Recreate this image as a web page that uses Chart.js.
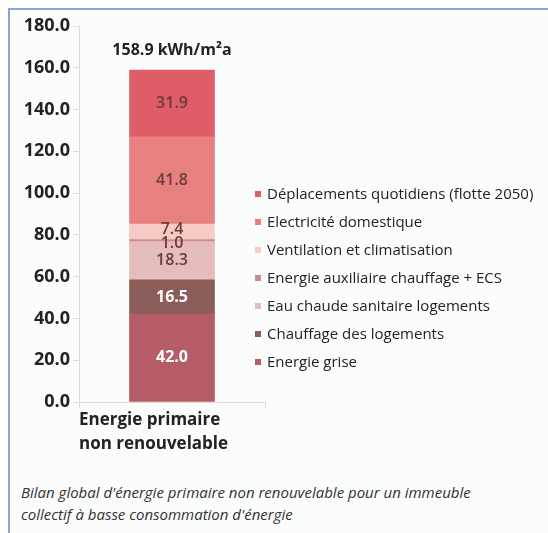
<!DOCTYPE html>
<html>
<head>
<meta charset="utf-8">
<script src="https://cdn.jsdelivr.net/npm/chart.js@4"></script>
<style>
  body { margin: 0; background: #fff; }
  #frame {
    position: absolute; left: 8px; top: 8px; width: 540px; height: 525px;
    border-left: 2px solid #86a4d6; border-top: 2px solid #86a4d6;
    background: #fbfcfc;
  }
  #myChart { position: absolute; left: 0; top: 0; }
  #legend {
    position: absolute; left: 255px; top: 179px;
    font: 15px "Open Sans", sans-serif; color: #222;
  }
  #legend div { height: 28px; line-height: 28px; white-space: nowrap; }
  #legend span {
    display: inline-block; width: 6px; height: 6px; margin-right: 6px;
    vertical-align: middle; position: relative; top: -1px;
  }
  #caption {
    position: absolute; left: 21px; top: 481px;
    font: italic 15px "Open Sans", sans-serif; line-height: 22px; color: #333;
  }
</style>
</head>
<body>
<div id="frame"></div>
<canvas id="myChart" width="548" height="470"></canvas>
<div id="legend"></div>
<div id="caption">Bilan global d'énergie primaire non renouvelable pour un immeuble<br>collectif à basse consommation d'énergie</div>
<script>
// one stacked bar, segments from bottom to top
const category = [['Energie primaire', 'non renouvelable']];
const seriesNames = [
    'Energie grise',
    'Chauffage des logements',
    'Eau chaude sanitaire logements',
    'Energie auxiliaire chauffage + ECS',
    'Ventilation et climatisation',
    'Electricité domestique',
    'Déplacements quotidiens (flotte 2050)'
];
const seriesValues = [42.0, 16.5, 18.3, 1.0, 7.4, 41.8, 31.9];
const seriesColors = ['#b55c66', '#8b5d58', '#e6bdbd', '#cf8b90', '#f6cbc4', '#e68180', '#de5d68'];
const labelColors = ['#fff', '#fff', '#6a3b3b', '#6a3b3b', '#6a3b3b', '#6a3b3b', '#6a3b3b'];
const yTicks = { min: 0, max: 180, step: 20 };
const unit = 'kWh/m²a';

const axisColor = '#ead6d6';

// value labels inside segments + total on top
const barLabels = {
    id: 'barLabels',
    afterDatasetsDraw(chart, args, opts) {
        const c = chart.ctx;
        c.save();
        c.textAlign = 'center';
        c.textBaseline = 'middle';
        let top = null, cx = 0;
        chart.data.datasets.forEach((ds, i) => {
            const bar = chart.getDatasetMeta(i).data[0];
            c.font = (i < 2 ? 'bold ' : '600 ') + '16px "Open Sans"';
            c.fillStyle = labelColors[i];
            c.fillText(ds.data[0].toFixed(1), bar.x, (bar.y + bar.base) / 2 + opts.nudge[i]);
            if (top === null || bar.y < top) top = bar.y;
            cx = bar.x;
        });
        const total = seriesValues.reduce((a, b) => a + b, 0);
        c.font = 'bold 16px "Open Sans"';
        c.fillStyle = '#222';
        c.fillText(total.toFixed(1) + ' ' + unit, cx, top - 20);
        c.restore();
    }
};

const ctx = document.getElementById('myChart').getContext('2d');
let myChart = new Chart(ctx, {
    type: 'bar',
    data: {
        labels: category,
        datasets: seriesNames.map((name, i) => ({
            label: name,
            data: [seriesValues[i]],
            backgroundColor: seriesColors[i],
            borderWidth: 0,
            barThickness: 85
        }))
    },
    options: {
        responsive: false,
        animation: false,
        layout: { padding: { top: 26, right: 283, left: 0, bottom: 0 } },
        plugins: {
            legend: { display: false },
            tooltip: { enabled: false },
            barLabels: { nudge: [0, 0, 0, 3, -2, 0, 0] }
        },
        scales: {
            x: {
                stacked: true,
                grid: { drawOnChartArea: false, color: axisColor, tickLength: 6 },
                border: { color: axisColor },
                ticks: {
                    color: '#222',
                    font: { family: 'Open Sans', size: 17, weight: 'bold', lineHeight: 1.41 },
                    align: 'start',
                    labelOffset: -93,
                    padding: 0,
                    maxRotation: 0
                },
                afterFit(s) { s.height = 68; }
            },
            y: {
                stacked: true,
                min: yTicks.min,
                max: yTicks.max,
                grid: { drawOnChartArea: false, color: axisColor, tickLength: 6 },
                border: { color: axisColor },
                ticks: {
                    stepSize: yTicks.step,
                    color: '#222',
                    padding: 3,
                    font: { family: 'Open Sans', size: 18, weight: 'bold' },
                    callback: v => v.toFixed(1)
                },
                afterFit(s) { s.width = 79; }
            }
        }
    },
    plugins: [barLabels]
});

// legend, top item = last segment
const legend = document.getElementById('legend');
for (let i = seriesNames.length - 1; i >= 0; i--) {
    const row = document.createElement('div');
    const box = document.createElement('span');
    box.style.background = seriesColors[i];
    row.appendChild(box);
    row.appendChild(document.createTextNode(seriesNames[i]));
    legend.appendChild(row);
}
</script>
</body>
</html>
